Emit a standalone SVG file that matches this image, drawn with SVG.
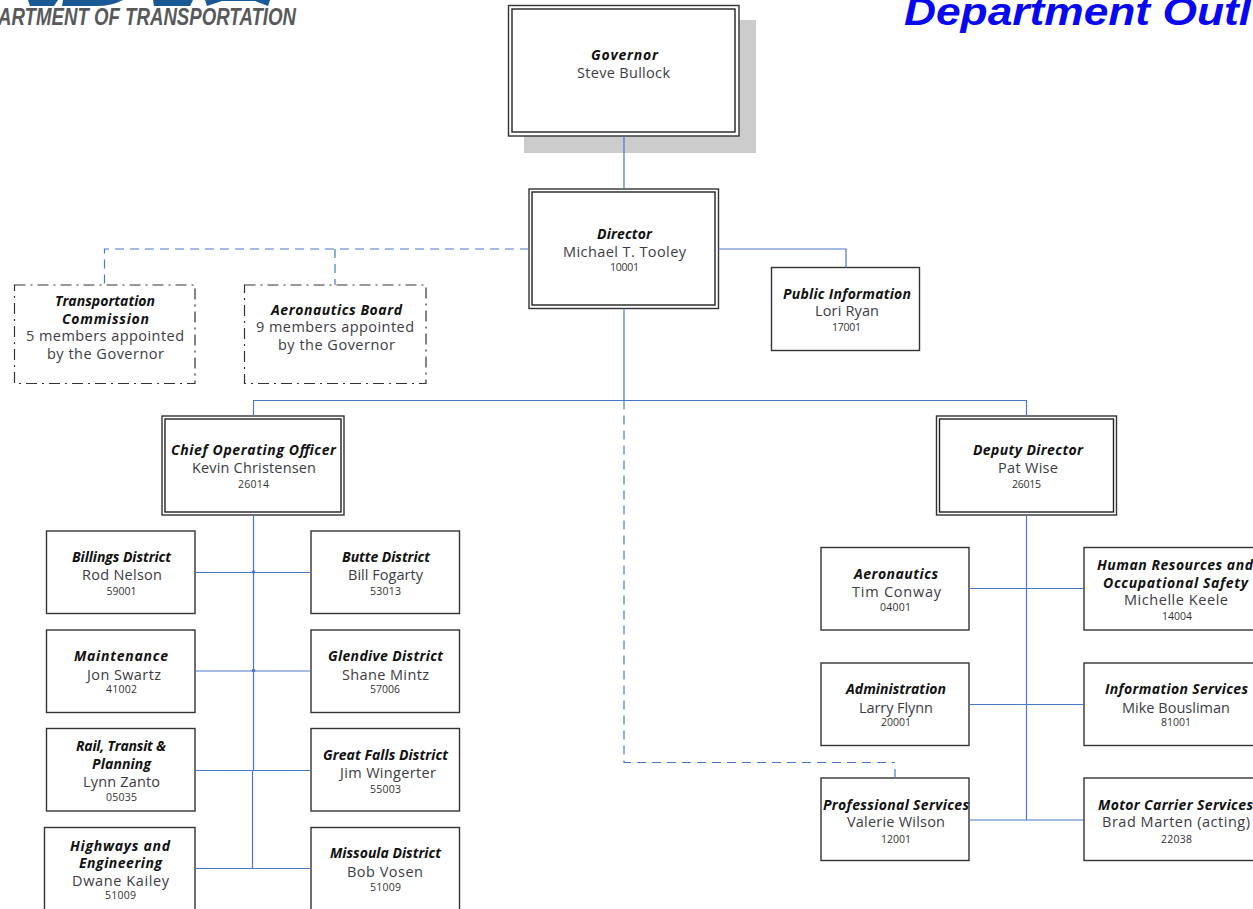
<svg xmlns="http://www.w3.org/2000/svg" width="1253" height="909" viewBox="0 0 1253 909">
<style>
text{font-family:"Open Sans","Liberation Sans",sans-serif;fill:#333}
.t{font-size:14px;font-weight:700;font-style:italic;fill:#111}
.n{font-size:14.5px;fill:#3c3c44}
.c{font-size:10.5px;fill:#333}
.b{fill:#fff;stroke:#333;stroke-width:1.4}
.i{fill:none;stroke:#222;stroke-width:1.4}
.d{fill:#fff;stroke:#333;stroke-width:1.2;stroke-dasharray:11 5 2 5}
.l{fill:none;stroke:#4a78c8;stroke-width:1.2}
.ld{fill:none;stroke:#4a78c8;stroke-width:1.2;stroke-dasharray:9 6}
.j{fill:#4a78c8}
</style>
<rect width="1253" height="909" fill="#fff"/>
<g id="logo">
<path d="M28 0H58L54 6H30ZM63 0H123Q112 6 96 6H62ZM153 0H193L190 6H154ZM205 0H270L268 6L255 1H222L207 6Z" fill="#1a5a94"/>
<text x="-2" y="25" textLength="298" lengthAdjust="spacingAndGlyphs" style="font-family:'Liberation Sans',sans-serif;font-size:23px;font-weight:700;font-style:italic;fill:#58595b">ARTMENT OF TRANSPORTATION</text>
</g>
<g id="title"><text x="904" y="25" textLength="347" lengthAdjust="spacingAndGlyphs" style="font-family:'Liberation Sans',sans-serif;font-size:38px;font-weight:700;font-style:italic;fill:#0808f0">Department Outl</text></g>
<g id="governor"><rect x="524" y="20" width="232" height="133" fill="#ccc"/><rect class="b" x="508.5" y="5.5" width="230.5" height="130.5"/><rect class="i" x="512" y="9" width="223" height="123"/><text class="t" x="591" y="60" textLength="67">Governor</text><text class="n" x="577" y="78" textLength="93">Steve Bullock</text></g>
<g id="director"><rect class="b" x="529" y="189" width="189.5" height="119.5"/><rect class="i" x="532" y="192" width="183" height="113"/><text class="t" x="597" y="239" textLength="55">Director</text><text class="n" x="563" y="257" textLength="123">Michael T. Tooley</text><text class="c" x="610" y="271" textLength="29">10001</text></g>
<g id="public-information"><rect class="b" x="771.5" y="267.5" width="148" height="83"/><text class="t" x="783" y="299" textLength="128">Public Information</text><text class="n" x="815" y="316" textLength="64">Lori Ryan</text><text class="c" x="832" y="331" textLength="29">17001</text></g>
<g id="transportation-commission"><rect class="d" x="14.5" y="285" width="180.5" height="98.5"/><text class="t" x="55" y="306" textLength="100">Transportation</text><text class="t" x="62" y="324" textLength="87">Commission</text><text class="n" x="26" y="341" textLength="158">5 members appointed</text><text class="n" x="47" y="359" textLength="117">by the Governor</text></g>
<g id="aeronautics-board"><rect class="d" x="244.5" y="285" width="181.5" height="98.5"/><text class="t" x="271" y="315" textLength="131">Aeronautics Board</text><text class="n" x="256" y="332" textLength="158">9 members appointed</text><text class="n" x="278" y="350" textLength="117">by the Governor</text></g>
<g id="coo"><rect class="b" x="162" y="416" width="182" height="99"/><rect class="i" x="165" y="419" width="176" height="93"/><text class="t" x="171" y="455" textLength="165">Chief Operating Officer</text><text class="n" x="192" y="473" textLength="124">Kevin Christensen</text><text class="c" x="238" y="488" textLength="31">26014</text></g>
<g id="deputy-director"><rect class="b" x="936.5" y="416" width="180" height="99"/><rect class="i" x="939.5" y="419" width="174" height="93"/><text class="t" x="973" y="455" textLength="110">Deputy Director</text><text class="n" x="998" y="473" textLength="60">Pat Wise</text><text class="c" x="1012" y="488" textLength="29">26015</text></g>
<g id="billings"><rect class="b" x="46.5" y="531" width="148.5" height="82.5"/><text class="t" x="72" y="562" textLength="99">Billings District</text><text class="n" x="82" y="580" textLength="80">Rod Nelson</text><text class="c" x="106.5" y="595" textLength="30">59001</text></g>
<g id="maintenance"><rect class="b" x="46.5" y="630" width="148.5" height="82.5"/><text class="t" x="74" y="661" textLength="94">Maintenance</text><text class="n" x="87" y="680" textLength="74">Jon Swartz</text><text class="c" x="106" y="693" textLength="31">41002</text></g>
<g id="rail"><rect class="b" x="46.5" y="728.5" width="148.5" height="82.5"/><text class="t" x="76" y="751" textLength="90">Rail, Transit &amp;</text><text class="t" x="92" y="769" textLength="59">Planning</text><text class="n" x="83" y="787" textLength="77">Lynn Zanto</text><text class="c" x="106" y="801" textLength="31">05035</text></g>
<g id="highways"><rect class="b" x="44.5" y="827.5" width="150.5" height="90"/><text class="t" x="70" y="851" textLength="100">Highways and</text><text class="t" x="79" y="868" textLength="83">Engineering</text><text class="n" x="72" y="886" textLength="97">Dwane Kailey</text><text class="c" x="105" y="899" textLength="31">51009</text></g>
<g id="butte"><rect class="b" x="311" y="531" width="148.5" height="82.5"/><text class="t" x="342" y="562" textLength="88">Butte District</text><text class="n" x="348" y="580" textLength="75">Bill Fogarty</text><text class="c" x="370" y="595" textLength="31">53013</text></g>
<g id="glendive"><rect class="b" x="311" y="630" width="148.5" height="82.5"/><text class="t" x="328" y="661" textLength="115">Glendive District</text><text class="n" x="342" y="680" textLength="87">Shane Mintz</text><text class="c" x="370" y="693" textLength="30">57006</text></g>
<g id="great-falls"><rect class="b" x="311" y="728.5" width="148.5" height="82.5"/><text class="t" x="323" y="760" textLength="125">Great Falls District</text><text class="n" x="340" y="778" textLength="96">Jim Wingerter</text><text class="c" x="370" y="793" textLength="31">55003</text></g>
<g id="missoula"><rect class="b" x="311" y="827.5" width="148.5" height="90"/><text class="t" x="330" y="858" textLength="111">Missoula District</text><text class="n" x="347" y="877" textLength="76">Bob Vosen</text><text class="c" x="370" y="891" textLength="31">51009</text></g>
<g id="aeronautics"><rect class="b" x="821" y="547.5" width="148" height="82.5"/><text class="t" x="854" y="579" textLength="84">Aeronautics</text><text class="n" x="852" y="597" textLength="89">Tim Conway</text><text class="c" x="880" y="611" textLength="31">04001</text></g>
<g id="administration"><rect class="b" x="821" y="663" width="148" height="82.5"/><text class="t" x="846" y="694" textLength="100">Administration</text><text class="n" x="859" y="713" textLength="74">Larry Flynn</text><text class="c" x="881" y="726" textLength="30">20001</text></g>
<g id="professional-services"><rect class="b" x="821" y="778" width="148" height="82.5"/><text class="t" x="823" y="810" textLength="146">Professional Services</text><text class="n" x="847" y="827" textLength="98">Valerie Wilson</text><text class="c" x="881" y="843" textLength="30">12001</text></g>
<g id="human-resources"><rect class="b" x="1084" y="547.5" width="190" height="82.5"/><text class="t" x="1097" y="570" textLength="156">Human Resources and</text><text class="t" x="1103" y="588" textLength="145">Occupational Safety</text><text class="n" x="1124" y="605" textLength="104">Michelle Keele</text><text class="c" x="1162" y="620" textLength="30">14004</text></g>
<g id="information-services"><rect class="b" x="1084" y="663" width="190" height="82.5"/><text class="t" x="1105" y="694" textLength="143">Information Services</text><text class="n" x="1122" y="713" textLength="108">Mike Bousliman</text><text class="c" x="1161" y="726" textLength="30">81001</text></g>
<g id="motor-carrier"><rect class="b" x="1084" y="778" width="190" height="82.5"/><text class="t" x="1098" y="810" textLength="155">Motor Carrier Services</text><text class="n" x="1102" y="827" textLength="148">Brad Marten (acting)</text><text class="c" x="1161" y="843" textLength="31">22038</text></g>
<g id="connectors">
<path class="l" d="M624 136V189M718.5 249H846V267.5M624 308.5V400.5M253.5 416V400.5H1026.5V416M253.5 515V770.5M252.5 770.5V868.5M195 572.5H311M195 671H311M195 770.5H311M195 868.5H311M1026.5 515V820M969 588.5H1084M969 704.5H1084M969 820H1084M895 769V778"/>
<path class="ld" d="M529 249H104.5V285M335 249V285M624 400.5V762.5H895"/>
<circle class="j" cx="253.5" cy="572" r="1.8"/><circle class="j" cx="253.5" cy="670.5" r="1.8"/>
</g>
</svg>
